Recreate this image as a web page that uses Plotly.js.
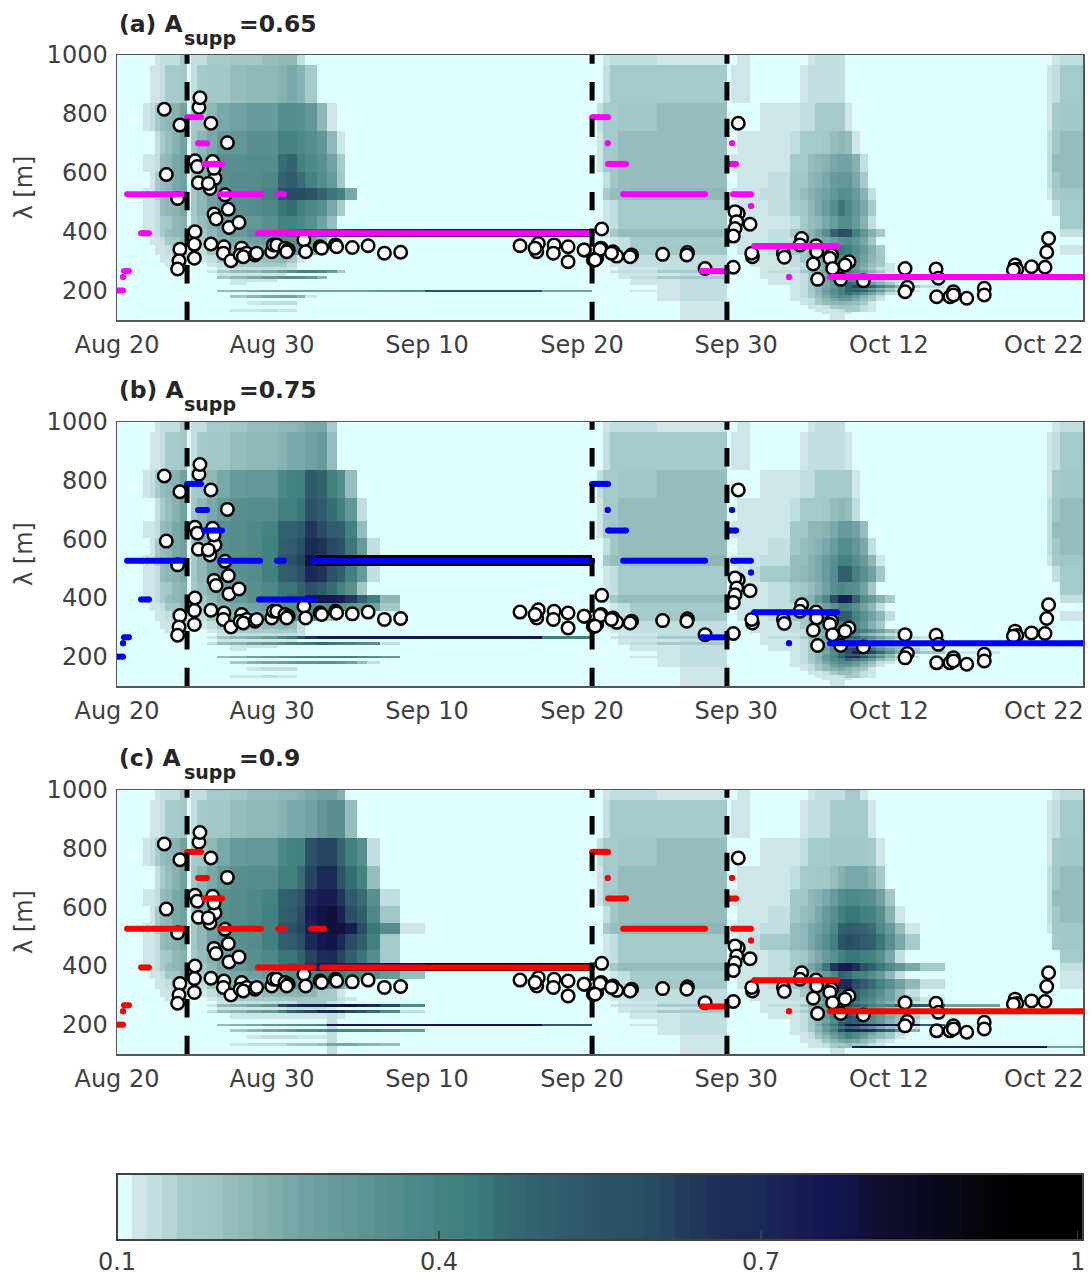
<!DOCTYPE html>
<html><head><meta charset="utf-8">
<script src="https://cdn.plot.ly/plotly-3.0.1.min.js"></script>
<style>html,body{margin:0;padding:0;background:#fff}#c{width:1090px;height:1277px}</style>
</head><body><div id="c"></div>
<script>
// Time axis is an index axis: labelled ticks are evenly spaced.
const tickPos=[0,10,20,30,39.94,49.8,59.8];
const tickText=["Aug 20","Aug 30","Sep 10","Sep 20","Sep 30","Oct 12","Oct 22"];
const yTicks=[200,400,600,800,1000];
// Heat-map cell edges.
const xEdges=[0,1.68,2.13,2.45,2.77,3.10,3.55,4.06,4.52,4.77,5.16,5.81,6.45,7.29,8.39,9.35,10.39,10.97,11.61,12.13,12.90,13.55,14.19,14.71,15.48,16.13,16.97,18.26,19.87,27.42,30.65,30.97,31.35,31.81,32.32,33.10,34.84,36.32,39.35,39.61,40,40.84,41.48,42,43.42,44.06,44.58,45.03,45.48,46,46.52,46.97,47.42,47.94,48.45,48.97,49.55,50.19,50.84,51.81,53.42,56.97,60,60.32,60.84,62.32];
const yEdges=[1000,967,837,742,664,603,548,508,453,409,382,355,321,294,280,270,260,250,240,229,219,209,202,195,185,175,165,151,138,128,120,100];
// Read-off cell levels, one string per wavelength row (top to bottom), one character per column:
// base-36 digit L means value 0.1+0.02*L, Z means 0.95. Groups are contiguous column runs; trailing zeros omitted.
const heatA=[
"0 0012223 0 2233445662 00122211 0 010000012222 012",
"0 0112334 0 23445667873 00233333 0 110000122222 123",
"0 1235679 0 34689aaddcb61 02334455 0 0001112233331 134",
"0 0023579 0 468abccffedb61 01335555 0 01111233345651 245",
"0 1125689 0 47accddijgec93 01345555 0 111113356789972 255",
"0 0135689 0 47acddejlifda4 00245555 0 0111244678abb83 245",
"0 1135689 0 469bcdfnppnjhf8 00355666 0 1112245789bdca72 134",
"0 1125678 0 469bcdehigec83 00123333 0 011123468adheb83 023",
"0 1123467 0 3579abcffec95 00123333 0 0111123568adda72 003",
"0 1123567 0 2468acegijkknprtuvwxw 00135555 0 011123479cjongb73 002",
"0 0112346 0 235789accb962 00012333 0 0111223568acdb84 0",
"0 0011235 0 1245678aba62 00112344 0 011123468aehgda73 001",
"0 0001123 0 0123445641 00011222 0 0011123579ceec964 0",
"0 0000112 0 001233332 00011222 0 0011122468bddb8531 0",
"0 0000011 0 000122221 00001122 0 0001112357acca7421 0",
"0 0 0 0013568adffea4 00012233 0 0001223579cffc9631 0",
"0 0 0 00011111 00001112 0 0001112357adda742 0",
"0 0 0 000468acddb7 00001233 0 0001112469cgjjgc9531 0",
"0 0 0 0000111 00000112 0 0000112469ceec8531 0",
"0 0 0 00001 00000112 0 0000112468bfihd9631 0",
"0 0 0 0 00000012 0 0000012358bfjqqjfb742 0",
"0 0 0 0 00000012 0 0000012469cgjifb742 0",
"0 0 0 0005789999999999abdn9 00000112 0 000001247adgkmkgb631 0",
"0 0 0 0 00000012 0 0000012369cfigd9521 0",
"0 0 0 00004689961 00000012 0 0000012358bdca742 0",
"0 0 0 0 00000012 0 00000112468aa8531 0",
"0 0 0 000001222 00000001 0 0000001235676531 0",
"0 0 0 0 00000001 0 0000000112344321 0",
"0 0 0 000011211 00000001 0 0000000011123321 0",
"0 0 0 0 00000001 0 0000000001111 0",
"0 0 0 0 00000001 0 000000000011 0"];
const heatB=[
"0 0012223 0 2233455667883 00122211 0 010000012222 012",
"0 0112334 0 23445667889a5 00233333 0 1100001222221 123",
"0 1235679 0 3468abbefgljgd5 02334455 0 00011122333331 134",
"0 0023579 0 468acddgghnligb2 01335555 0 01111233345652 245",
"0 1125689 0 47acdefjjlrplkg5 01345555 0 11111446678aa95 255",
"0 0135689 0 47acdegklotspnha2 00245555 0 0111245678addb82 245",
"0 1135689 0 469bdegmnqyZZZZZZZZZZ 00355666 0 111225578acggda61 134",
"0 1125678 0 469bcdgklousnkga2 00123333 0 012335678adkkfc94 023",
"0 1123467 0 3579bcehhjnlifc4 00123333 0 0111234579cedc94 003",
"0 1123567 0 2468acehjlvxxwrjg6 00135555 0 01112357aeovvjda73 002",
"0 0112346 0 235789acccdddcba94 00012333 0 0111223579cgfc962 0",
"0 0011235 0 1245678abba84 00112344 0 01112347achlkfc962 001",
"0 0001123 0 0123445652 00011222 0 001112358adggeb73 0",
"0 0000112 0 0012333332 00011222 0 0011122468cfhhfc963 0",
"0 0000011 0 0001222221 00001122 0 0001112357beec85321 0",
"0 0 0 001468aehnrwxxxxxxxxg 00012233 0 0001223579cgjjgc96421 0",
"0 0 0 000111111 00001112 0 0001112357bfgfc9631 0",
"0 0 0 002579bdfghihgfec2 00001233 0 0001112469dijjida642 0",
"0 0 0 0000111 00000112 0 0000112469dgjigc8531 0",
"0 0 0 00001 00000112 0 0000112469ejpqnhc9631 0",
"0 0 0 0 00000012 0 0000012358chnvwqic8531 0",
"0 0 0 0 00000012 0 000001246aeilkgc852 0",
"0 0 0 000579acdeeffffeda 00000112 0 000001247bfkstnhc742 0",
"0 0 0 0 00000012 0 000001236adgjhea631 0",
"0 0 0 00004789abbccb952 00000012 0 0000012358bedb8521 0",
"0 0 0 0 00000012 0 00000112469bb9631 0",
"0 0 0 000001222 00000001 0 0000001235787531 0",
"0 0 0 0 00000001 0 0000000112355321 0",
"0 0 0 000011211 00000001 0 0000000011123321 0",
"0 0 0 0 00000001 0 0000000001111 0",
"0 0 0 0 00000001 0 000000000011 0"];
const heatC=[
"0 0012223 0 22334556678997 00122211 0 010000012222331 012",
"0 0112334 0 23445667889bcc5 00233333 0 1100001222333331 123",
"0 1235679 0 3468abbefgnqqjgd2 02334455 0 00011123334444431 134",
"0 0023579 0 468acddggiquunif5 01335555 0 01111233445788873 245",
"0 1125689 0 47acdefjkmuwwrlic2 01345555 0 1111144678adeedc94 255",
"0 0135689 0 47acdegklpwyzvoke4 00245555 0 011124568acghhgfc71 245",
"0 1135689 0 469bdegmnqvyzzwphd1 00355666 0 111225689beklkjiea51 144",
"0 1125678 0 469bcdgklouxyuokg3 00123333 0 01233568acgnpnlkhc83 034",
"0 1123467 0 3579bcehhjqtuqkhd3 00123333 0 011123468acfhhgfd82 003",
"0 1123567 0 2468acehjlrxwvvwxyyZZ 00135555 0 01112358bhrwxtnkheb83 002",
"0 0112346 0 235789accdefffedca5 00012333 0 011122368aejigfda62 001",
"0 0011235 0 1245678abbbaa84 00112344 0 01112358bejtuplifc962 001",
"0 0001123 0 01234456676431 00011222 0 001112369cgkljhfc952 0",
"0 0000112 0 001233334443321 00011222 0 001112258bfjkjgeb9631 0",
"0 0000011 0 00012222233321 00001122 0 0001112469cghgec97421 0",
"0 0 0 001579bosvxxyyywtpe 00012233 0 000122469cgmnligeflnl9 0",
"0 0 0 0001111122221 00001112 0 0001112469cghfdb8531 0",
"0 0 0 002579bgknqtuspmie2 00001233 0 000112358bfkmjhec9641 0",
"0 0 0 00001111111121 00000112 0 000011247aeilifda752 0",
"0 0 0 00001111111121 00000112 0 000011247bglolheb8531 0",
"0 0 0 0000000000002 00000012 0 0000012369dhlkhda742 0",
"0 0 0 0000000000002 00000012 0 000001247aejmkheb752 0",
"0 0 0 000578abcdegxxxxxxxyl 00000112 0 000001248chpyyyxxxxvl 0",
"0 0 0 0000000000002 00000012 0 000001236adhkifc8531 0",
"0 0 0 00004689bcdeggffeda 00000012 0 000001247bgpuutsoke7 0",
"0 0 0 0000000000002 00000012 0 0000011258begec9642 0",
"0 0 0 0000012221112 00000001 0 00000012469cfda7531 0",
"0 0 0 0000000000002 00000001 0 000000112468986421 0",
"0 0 0 000012223445888765 00000001 0 00000001123454321 0",
"0 0 0 0000000000002 00000001 0 0000000112355vxxxxxxxxxu 999",
"0 0 0 0000000000002 00000001 0 000000000011 0"];
// Scatter of observed wavelengths (same in every panel).
const obsT=[3.05,4.06,5.29,5.35,6.06,7.12,3.18,5.03,5.18,6.17,6.32,6.26,5.25,6.0,5.89,6.97,3.91,7.18,6.26,6.39,7.23,7.87,5.03,4.99,4.06,4.0,3.91,4.99,6.06,6.9,6.86,7.35,8.04,7.94,8.36,8.15,8.9,9.01,9.98,10.09,10.3,10.84,11.05,10.95,12.06,12.17,13.1,13.2,14.1,14.17,15.18,16.2,17.25,18.3,26.0,27.18,27.08,26.97,28.2,28.15,29.1,29.1,30.15,31.23,30.95,30.73,31.27,31.16,30.84,30.13,32.0,32.24,31.9,33.2,33.1,35.2,36.8,36.76,37.94,39.76,40.08,40.08,39.87,39.98,39.87,39.76,40.84,40.99,40.95,42.99,43.05,44.17,44.06,45.1,45.14,44.92,46.1,45.99,46.17,45.2,46.69,47.22,46.97,48.15,50.84,50.99,50.84,52.84,52.99,52.88,53.96,53.74,53.96,54.82,55.95,55.95,57.94,58.05,57.83,59.0,59.87,59.98,60.1];
const obsL=[816,762,822,855,768,702,594,641,621,638,581,615,566,547,564,525,513,476,460,443,414,431,400,357,340,301,273,310,358,349,327,301,344,321,327,315,321,327,332,355,355,344,338,332,372,332,349,344,355,349,346,352,327,330,352,360,332,344,355,327,349,298,338,344,310,304,409,340,304,338,332,317,327,321,315,323,329,321,275,279,768,462,468,434,411,385,425,315,327,327,313,377,355,352,332,290,321,310,275,238,238,298,287,233,275,211,196,273,242,179,196,179,185,174,208,185,287,272,270,281,279,330,377];
// Dominant-wavelength segments: start, end, wavelength. Start = end is a single point.
const segStartA=[0.06,0.39,0.45,0.65,1.87,1.55,4.52,5.23,5.61,6.65,10.39,9.1,10.65,30.65,31.66,31.68,32.65,37.74,39.48,39.68,39.74,40.9,41.1,43.35,46.0];
const segEndA=[0.39,0.39,0.77,1.68,4.45,2.06,5.42,5.81,6.77,9.29,10.77,10.52,30.65,31.68,31.66,32.84,37.94,39.35,39.94,39.68,40.9,40.9,46.45,43.35,62.3];
const segLamA=[200,246,266,527,527,395,789,700,630,527,527,395,395,789,700,630,527,266,630,700,527,487,351,246,246];
const segStartB=[0.06,0.39,0.45,0.65,1.87,1.55,4.52,5.23,5.61,6.65,10.32,9.16,10.65,12.7,30.65,31.66,31.68,32.65,37.74,39.48,39.68,39.74,40.9,41.1,43.35,46.0];
const segEndB=[0.39,0.39,0.77,1.68,4.45,2.06,5.42,5.81,6.77,9.23,10.77,10.45,12.65,30.65,31.68,31.66,32.84,37.94,39.35,39.94,39.68,40.9,40.9,46.45,43.35,62.3];
const segLamB=[200,246,266,527,527,395,789,700,630,527,527,395,395,527,789,700,630,527,266,630,700,527,487,351,246,246];
const segStartC=[0.06,0.39,0.45,0.65,1.87,1.55,4.52,5.23,5.61,6.65,10.39,12.52,9.1,10.65,13.23,30.65,31.66,31.68,32.65,37.74,39.48,39.68,39.74,40.9,41.1,43.35,46.0];
const segEndC=[0.39,0.39,0.77,1.68,4.45,2.06,5.42,5.81,6.77,9.29,10.77,13.35,10.52,12.65,30.65,31.68,31.66,32.84,37.94,39.35,39.94,39.68,40.9,40.9,46.45,43.35,62.3];
const segLamC=[200,246,266,527,527,395,789,700,630,527,527,527,395,395,395,789,700,630,527,262,630,700,527,487,351,246,246];
const breaks=[4.52,30.65,39.35];
const segColors=["#ff00ff","#0000ff","#ff0000"];
const panelNames=["(a) A","(b) A","(c) A"];
const panelSub="supp";
const panelVals=["=0.65","=0.75","=0.9"];
// Colour map (value, colour); 64 flat steps as in the original.
const cmapV=[0.1,0.108,0.121,0.135,0.149,0.163,0.191,0.205,0.221,0.249,0.277,0.308,0.333,0.357,0.383,0.408,0.426,0.441,0.457,0.488,0.52,0.544,0.578,0.603,0.634,0.665,0.7,0.734,0.772,0.805,0.837,0.877,0.914,0.945,1];
const cmapC=["#dfffff","#dfffff","#cfe6e8","#c1dfe0","#b7d4d5","#a5cacb","#9fc5c4","#95bdbd","#8db6b6","#7faeac","#70a0a0","#659a99","#5d9391","#558e8c","#4a8786","#44827f","#3d807d","#3a7a7a","#376d75","#33636f","#305a6c","#2e5469","#2a5066","#284b62","#21385c","#1f2f58","#1c2757","#181e53","#141550","#0e0e33","#0c0c28","#080817","#030309","#000002","#000000"];
const W=1090,H=1277,N=64;
const hex=c=>[1,3,5].map(i=>parseInt(c.substr(i,2),16));
function colorAt(v){let i=0;while(i<cmapV.length-2&&v>cmapV[i+1])i++;
  const f=Math.min(1,Math.max(0,(v-cmapV[i])/(cmapV[i+1]-cmapV[i])));const a=hex(cmapC[i]),b=hex(cmapC[i+1]);
  return 'rgb('+a.map((x,k)=>Math.round(x+(b[k]-x)*f)).join(',')+')';}
const scale=[];for(let i=0;i<N;i++){const c=colorAt(0.1+0.9*(i+0.5)/N);scale.push([i/N,c],[(i+1)/N,c]);}
const groupLen=[1,7,1,21,8,1,23,3];
function decode(rows){return rows.map(r=>{const g=r.split(' ');let s='';
  groupLen.forEach((n,i)=>{s+=(g[i]||'').padEnd(n,'0').slice(0,n);});
  return Array.from(s).map(c=>c==='Z'?0.95:+(0.1+0.02*parseInt(c,36)).toFixed(2));});}
const heats=[heatA,heatB,heatC],segs=[[segStartA,segEndA,segLamA],[segStartB,segEndB,segLamB],[segStartC,segEndC,segLamC]];
const tops=[55,422,790],bots=[320,686,1054],titleY=[24,390,758];
const data=[],layout={width:W,height:H,margin:{l:0,r:0,t:0,b:0,autoexpand:false},paper_bgcolor:'#fff',plot_bgcolor:'#fff',showlegend:false,annotations:[],
  font:{family:'DejaVu Sans',color:'#404040'}};
function title(text,px,py,size){layout.annotations.push({xref:'paper',yref:'paper',x:px/W,y:1-py/H,xanchor:'left',yanchor:'middle',showarrow:false,align:'left',borderpad:0,
    font:{size:size,weight:700,color:'#262626',family:'DejaVu Sans'},text:text});}
heats.forEach((h,p)=>{
  const sfx=p?String(p+1):'',xa='x'+sfx,ya='y'+sfx;
  data.push({type:'heatmap',x:xEdges,y:yEdges,z:decode(h),xaxis:xa,yaxis:ya,zmin:0.1,zmax:1,colorscale:scale,hoverinfo:'skip',zsmooth:false,
    showscale:p===2,colorbar:p===2?{orientation:'h',x:117/W,xanchor:'left',xref:'paper',y:1-1174/H,yanchor:'top',yref:'paper',len:966,lenmode:'pixels',thickness:66,thicknessmode:'pixels',xpad:0,ypad:0,
      outlinecolor:'#404040',outlinewidth:2,borderwidth:0,tickmode:'array',tickvals:[0.1,0.4,0.7,0.995],ticktext:['0.1','0.4','0.7','1'],ticks:'inside',ticklen:10,tickwidth:1.5,tickcolor:'#404040',tickfont:{size:24,color:'#404040',family:'DejaVu Sans'}}:undefined});
  data.push({type:'scatter',mode:'markers',x:obsT,y:obsL,xaxis:xa,yaxis:ya,hoverinfo:'skip',marker:{size:12.5,color:'#fff',line:{color:'#000',width:2.5}}});
  const [a,b,l]=segs[p],sx=[],sy=[];
  a.forEach((v,i)=>{sx.push(v,b[i],null);sy.push(l[i],l[i],null);});
  data.push({type:'scatter',mode:'lines+markers',x:sx,y:sy,xaxis:xa,yaxis:ya,hoverinfo:'skip',connectgaps:false,line:{color:segColors[p],width:6},marker:{size:6,color:segColors[p]}});
  breaks.forEach(t=>data.push({type:'scatter',mode:'lines',x:[t,t],y:[100,1000],xaxis:xa,yaxis:ya,hoverinfo:'skip',line:{color:'#000',width:5,dash:'18.3px,18.3px'}}));
  layout['xaxis'+sfx]={domain:[117/W,1083/W],range:[0,62.32],anchor:ya,tickmode:'array',tickvals:tickPos,ticktext:tickText,ticks:'outside',ticklen:3,tickcolor:'rgba(0,0,0,0)',
    showgrid:false,zeroline:false,showline:true,mirror:true,linecolor:'#555',linewidth:1.5,tickfont:{size:24,color:'#404040'}};
  layout['yaxis'+sfx]={domain:[1-bots[p]/H,1-tops[p]/H],range:[100,1000],anchor:xa,tickmode:'array',tickvals:yTicks,ticks:'outside',ticklen:3,tickcolor:'rgba(0,0,0,0)',
    showgrid:false,zeroline:false,showline:true,mirror:true,linecolor:'#555',linewidth:1.5,tickfont:{size:24,color:'#404040'},title:{text:'λ [m]',font:{size:24,color:'#404040'},standoff:7}};
  title(panelNames[p],118,titleY[p],23.5);
  title(panelSub,183,titleY[p]+14,19);
  title(panelVals[p],238,titleY[p],23.5);
});
Plotly.newPlot('c',data,layout,{displayModeBar:false,staticPlot:true});
</script></body></html>
